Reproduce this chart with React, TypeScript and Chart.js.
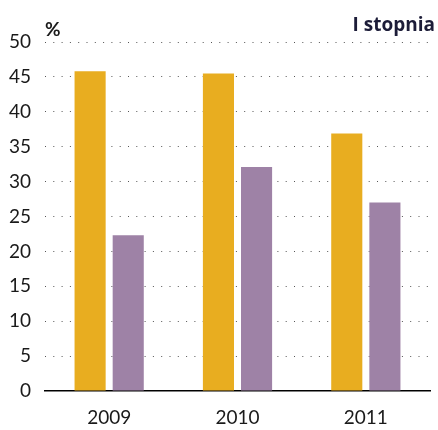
import React, { useEffect, useRef } from "react";
import { Chart, registerables } from "chart.js";

Chart.register(...registerables);

const categories = ["2009", "2010", "2011"];
const seriesA = [45.8, 45.5, 36.9];
const seriesB = [22.3, 32.1, 27.0];
const yTicks = [0, 5, 10, 15, 20, 25, 30, 35, 40, 45, 50];
const titleText = "I stopnia";
const unitText = "%";

const FONT = "Lato, 'Open Sans', sans-serif";

const textPlugin = {
  id: "texts",
  afterDraw(chart: any) {
    const ctx = chart.ctx;
    ctx.save();
    ctx.fillStyle = "#1c1c38";
    ctx.font = `bold 19px 'Open Sans', sans-serif`;
    ctx.textAlign = "right";
    ctx.textBaseline = "alphabetic";
    ctx.fillText(titleText, 435, 31);
    ctx.fillStyle = "#1a1a1a";
    ctx.font = `bold 19px ${FONT}`;
    ctx.textAlign = "left";
    ctx.fillText(unitText, 45, 36);
    ctx.restore();
  },
};

export default function App() {
  const ref = useRef<HTMLCanvasElement>(null);
  useEffect(() => {
    document.body.style.margin = "0";
    const chart = new Chart(ref.current!, {
      type: "bar",
      data: {
        labels: categories,
        datasets: [
          { label: "A", data: seriesA, backgroundColor: "#E8AD20", barPercentage: 0.816, categoryPercentage: 0.594 },
          { label: "B", data: seriesB, backgroundColor: "#9E82A6", barPercentage: 0.816, categoryPercentage: 0.594 },
        ],
      },
      options: {
        animation: false,
        responsive: false,
        devicePixelRatio: 1,
        layout: { padding: { top: 42, right: 8, left: 0, bottom: 0 } },
        plugins: { legend: { display: false }, title: { display: false }, tooltip: { enabled: false } },
        scales: {
          x: {
            grid: { display: false, drawTicks: false },
            border: { display: true, color: "#000", width: 1.5 },
            ticks: { color: "#1a1a1a", font: { family: FONT, size: 19 }, padding: 15 },
            afterFit: (s: any) => { s.height = 39; },
          },
          y: {
            min: 0,
            max: 50,
            afterBuildTicks: (s: any) => { s.ticks = yTicks.map((v) => ({ value: v })); },
            grid: {
              drawTicks: false,
              color: (c: any) => (c.tick && c.tick.value === 0 ? "rgba(0,0,0,0)" : "#555"),
              lineWidth: 1,
            },
            border: { display: false, dash: [1, 7.3] },
            ticks: { color: "#1a1a1a", font: { family: FONT, size: 19 }, padding: 14 },
            afterFit: (s: any) => { s.width = 45; },
          },
        },
      },
      plugins: [textPlugin],
    });
    return () => chart.destroy();
  }, []);
  return (
    <div style={{ position: "absolute", left: 0, top: 0, width: 438, height: 430 }}>
      <canvas ref={ref} width={438} height={430} style={{ width: 438, height: 430 }} />
    </div>
  );
}
